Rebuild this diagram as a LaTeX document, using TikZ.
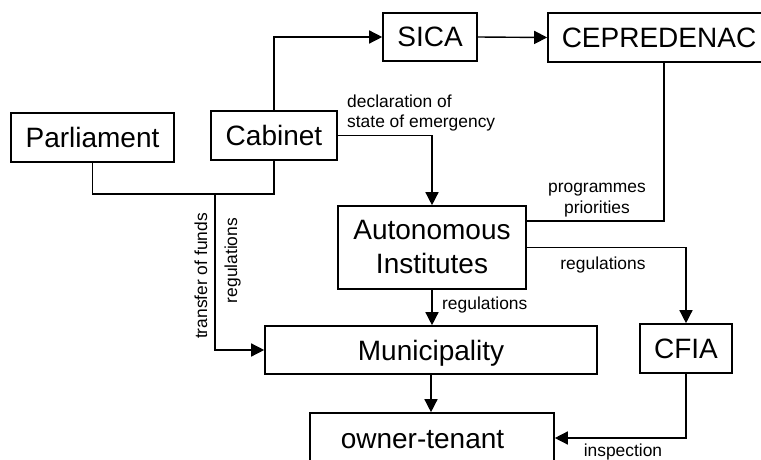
\documentclass[tikz,border=0pt]{standalone}
\usepackage{fontspec}
\setmainfont{Liberation Sans}
\usetikzlibrary{arrows.meta}
\begin{document}
\begin{tikzpicture}[x=1pt,y=-1pt,
  frame/.style={draw, line width=1.6pt, inner sep=0pt, font=\fontsize{28}{34}\selectfont},
  box/.style={frame, text height=20pt, text depth=0pt},
  boxtext/.style={inner sep=0pt, font=\fontsize{28}{34}\selectfont, text height=20pt, text depth=0pt},
  link/.style={line width=1.4pt},
  arr/.style={link, -{Triangle[length=13pt,width=13pt]}},
  note/.style={font=\fontsize{17.4}{20.5}\selectfont, inner sep=0pt}]
\clip (0,0) rectangle (761,460);
\fill[white] (0,0) rectangle (761,460);

% organisations
\node[box, minimum width=163, minimum height=49] (parl) at (92.5,137.5) {Parliament};
\node[box, minimum width=126, minimum height=49] (cab) at (274,135.5) {Cabinet};
\node[box, minimum width=94, minimum height=48] (sica) at (430,37) {SICA};
\node[box, minimum width=222, minimum height=49] (cep) at (659,37.5) {CEPREDENAC};
\node[frame, align=center, minimum width=188, minimum height=83] (auto) at (432,247.5) {Autonomous\\Institutes};
\node[box, minimum width=332, minimum height=48] (muni) at (431,350) {Municipality};
\node[box, minimum width=92, minimum height=49] (cfia) at (686,348.5) {CFIA};
\node[frame, minimum width=244, minimum height=50] (own) at (432,438) {};
\node[boxtext] (owntxt) at (422.5,438) {owner-tenant};

% joint of the Parliament and Cabinet lines
\coordinate (jn) at (215,194);

% connectors
\draw[link] (parl.south) |- (jn) -| (cab.south);
\draw[arr] (jn) |- (muni.west);
\draw[arr] (cab.north) |- (sica.west);
\draw[arr] (sica.east) -- (cep.west);
\draw[arr] (cab.east) -| (auto.north);
\draw[link] ([xshift=5pt]cep.south) |- ([yshift=26.5pt]auto.east);
\draw[arr] (auto.east) -| (cfia.north);
\draw[arr] (auto.south) -- (auto.south |- muni.north);
\draw[arr] (muni.south) -- (muni.south |- own.north);
\draw[arr] (cfia.south) |- (own.east);

% labels (base of a two-line label is the baseline of its last line)
\node[note, align=left, anchor=base west] (lbldecl) at (347,128) {declaration of\\state of emergency};
\node[note, align=center, anchor=base] (lblprog) at (597,213) {programmes\\priorities};
\node[note, anchor=base] (lblregr) at (603,269) {regulations};
\node[note, anchor=base west] (lblregm) at (442,309) {regulations};
\node[note, anchor=base] (lblinsp) at (623,456) {inspection};
\node[note, rotate=90, anchor=base] (lblfund) at (207,276) {transfer of funds};
\node[note, rotate=90, anchor=base] (lblregc) at (237,260.5) {regulations};
\end{tikzpicture}
\end{document}
